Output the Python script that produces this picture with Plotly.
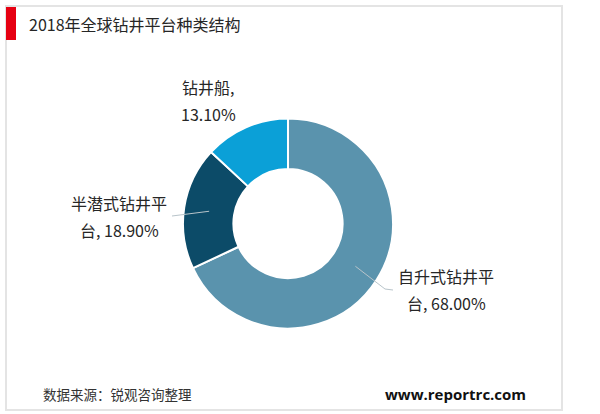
import math
import plotly.graph_objects as go

# ---- data ----
labels = ["自升式钻井平台", "半潜式钻井平台", "钻井船"]
values = [68.00, 18.90, 13.10]
label_lines = [["自升式钻井平", "台, 68.00%"], ["半潜式钻井平", "台, 18.90%"], ["钻井船,", "13.10%"]]
colors = ["#5A93AD", "#0C4B68", "#0BA0D7"]
title = "2018年全球钻井平台种类结构"
source = "数据来源：锐观咨询整理"
site = "www.reportrc.com"

W, H = 600, 414
CX, CY, R = 288, 223.5, 105  # pixel geometry of donut

def px(x):
    return x / W

def py(y):
    return 1 - y / H

FONT = "Noto Sans CJK SC"

fig = go.Figure(go.Pie(
    labels=labels,
    values=values,
    hole=0.52,
    sort=False,
    direction="clockwise",
    rotation=0,
    textinfo="none",
    hoverinfo="label+percent",
    marker=dict(colors=colors, line=dict(color="white", width=2)),
    domain=dict(x=[px(CX - R), px(CX + R)], y=[py(CY + R), py(CY - R)]),
    showlegend=False,
))

# label anchors (pixel, first-line centre) and leader-line elbows
label_pos = [(446, 276), (119, 203), (208, 87)]
line_gap = 27
leader_end = [[(385, 289), (393, 290)], [(172, 216)], None]

total = sum(values)
cum = 0
shapes = []
annotations = []
for i, v in enumerate(values):
    mid = (cum + v / 2) / total * 2 * math.pi
    cum += v
    sx = CX + 0.76 * R * math.sin(mid)
    sy = CY - 0.76 * R * math.cos(mid)
    if leader_end[i]:
        pts = [(sx, sy)] + leader_end[i]
        path = "M " + " L ".join(f"{px(x)},{py(y)}" for x, y in pts)
        shapes.append(dict(type="path", xref="paper", yref="paper", path=path,
                           line=dict(color="#B8C4CA", width=1)))
    lx, ly = label_pos[i]
    for j, t in enumerate(label_lines[i]):
        annotations.append(dict(x=px(lx), y=py(ly + j * line_gap), xref="paper", yref="paper",
                                text=t, showarrow=False,
                                xanchor="center", yanchor="middle", align="center",
                                font=dict(family=FONT, size=16, color="#262626")))

# frame and title bar
shapes.append(dict(type="rect", xref="paper", yref="paper",
                   x0=px(6), x1=px(562), y0=py(410), y1=py(6),
                   line=dict(color="#E4E4E4", width=2)))
shapes.append(dict(type="rect", xref="paper", yref="paper",
                   x0=px(6), x1=px(16), y0=py(40), y1=py(7),
                   fillcolor="#E60012", line=dict(width=0)))

annotations.append(dict(x=px(27), y=py(24), xref="paper", yref="paper", text=title,
                        showarrow=False, xanchor="left", yanchor="middle",
                        font=dict(family=FONT, size=16, color="#262626")))
annotations.append(dict(x=px(41), y=py(394), xref="paper", yref="paper", text=source,
                        showarrow=False, xanchor="left", yanchor="middle",
                        font=dict(family=FONT, size=13.5, color="#333333")))
annotations.append(dict(x=px(528), y=py(394), xref="paper", yref="paper",
                        text="<b>" + site + "</b>",
                        showarrow=False, xanchor="right", yanchor="middle",
                        font=dict(family="Open Sans", size=15, color="#111111")))

fig.update_layout(
    width=W, height=H,
    margin=dict(l=0, r=0, t=0, b=0),
    paper_bgcolor="white", plot_bgcolor="white",
    shapes=shapes, annotations=annotations,
)

fig.write_html(
    "out.html",
    config={"displayModeBar": False},
    post_script="document.body.style.margin='0';document.body.style.overflow='hidden';",
)
